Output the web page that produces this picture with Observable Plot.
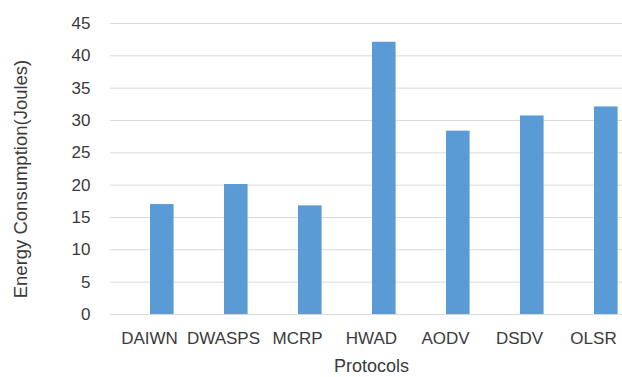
<!DOCTYPE html>
<html>
<head>
<meta charset="utf-8">
<script src="https://cdn.jsdelivr.net/npm/d3@7"></script>
<script src="https://cdn.jsdelivr.net/npm/@observablehq/plot@0.6"></script>
<style>
  html, body { margin: 0; padding: 0; background: #fff; }
  #chart svg { display: block; }
</style>
</head>
<body>
<div id="chart"></div>
<script>
const protocols = ["DAIWN", "DWASPS", "MCRP", "HWAD", "AODV", "DSDV", "OLSR"];
const energy = [17.0, 20.1, 16.8, 42.1, 28.35, 30.7, 32.1];
const yTicks = [0, 5, 10, 15, 20, 25, 30, 35, 40, 45];
const xTitle = "Protocols";
const yTitle = "Energy Consumption(Joules)";

const data = protocols.map((p, i) => ({protocol: p, value: energy[i]}));

const font = "'Liberation Sans', Arial, sans-serif";
const textColor = "#3a3a3a";

const chart = Plot.plot({
  width: 622,
  height: 377,
  marginTop: 23,
  marginBottom: 63,
  marginLeft: 110,
  marginRight: 0,
  style: {fontFamily: font, fontSize: "17px", color: textColor, background: "#fff"},
  x: {domain: protocols, range: [110, 631], padding: 0},
  y: {domain: [0, 45]},
  marks: [
    Plot.gridY(yTicks, {stroke: "#d9d9d9", strokeOpacity: 1, strokeWidth: 1}),
    Plot.barY(data, {x: "protocol", y: "value", fill: "#5b9bd5", insetLeft: 38, insetRight: 12.4}),
    Plot.axisY(yTicks, {tickSize: 0, tickPadding: 20, label: null, fill: textColor, fontSize: 17}),
    Plot.axisX({tickSize: 0, tickPadding: 17, label: null, fill: textColor, fontSize: 17}),
    Plot.text([yTitle], {frameAnchor: "left", dx: -89, dy: 10, rotate: -90, fill: textColor, fontSize: 18.5, textAnchor: "middle", lineAnchor: "middle"}),
    Plot.text([xTitle], {frameAnchor: "bottom", dy: 52, dx: 5, fill: textColor, fontSize: 18, lineAnchor: "middle"})
  ]
});
document.getElementById("chart").appendChild(chart);
</script>
</body>
</html>
